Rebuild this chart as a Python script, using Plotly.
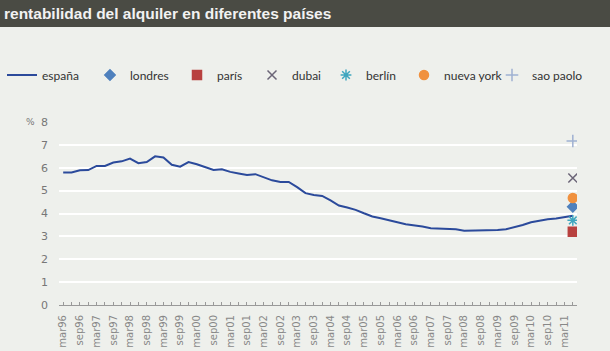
import plotly.graph_objects as go

months = []
for y in range(1996, 2012):
    for m in ["mar", "jun", "sep", "dic"]:
        months.append(f"{m}{str(y)[2:]}")
categories = months[:months.index("jun11") + 1]

espana = [5.79, 5.79, 5.89, 5.90, 6.08, 6.08, 6.23, 6.28, 6.40, 6.20,
          6.25, 6.50, 6.45, 6.13, 6.05, 6.25, 6.15, 6.02, 5.90, 5.93,
          5.82, 5.75, 5.68, 5.72, 5.57, 5.45, 5.38, 5.38, 5.15, 4.89,
          4.81, 4.77, 4.57, 4.35, 4.26, 4.16, 4.01, 3.87, 3.79, 3.72,
          3.62, 3.53, 3.49, 3.43, 3.36, 3.34, 3.34, 3.31, 3.25, 3.25,
          3.28, 3.28, 3.28, 3.31, 3.40, 3.50, 3.62, 3.69, 3.75, 3.78,
          3.84, 3.90]

cities = ["londres", "parís", "dubai", "berlín", "nueva york", "sao paolo"]
city_values = [4.3, 3.2, 5.55, 3.7, 4.68, 7.17]
city_symbols = ["diamond", "square", "x-thin-open", "asterisk-open", "circle", "cross-thin-open"]
city_colors = ["#4f81bd", "#b8413f", "#6b6577", "#3fa6bf", "#f0913f", "#9fb1d2"]
city_sizes = [8, 9, 9, 9, 9, 9]

y_ticks = [0, 1, 2, 3, 4, 5, 6, 7, 8]

W, H = 610, 351
L, R, T, B = 59, 33, 122, 46
pw, ph = W - L - R, H - T - B

# legend text start positions (pixels) for each entry
legend_text_x = [42, 130, 217, 292, 366, 444, 532]

xi = list(range(len(categories)))
fig = go.Figure()
fig.add_trace(go.Scatter(x=xi, y=espana, mode="lines", name="españa",
                         line=dict(color="#2b4a9b", width=2), legend="legend"))
for k, (c, v, s, col, sz) in enumerate(zip(cities, city_values, city_symbols, city_colors, city_sizes)):
    fig.add_trace(go.Scatter(x=[xi[-1]], y=[v], mode="markers", name=c,
                             legend=f"legend{k + 2}",
                             marker=dict(symbol=s, color=col, size=sz,
                                         line=dict(color=col, width=1.5))))

ticktext = [lab if i % 2 == 0 else "" for i, lab in enumerate(categories)]

bg = "#eef0ec"
legends = {}
for k, tx in enumerate(legend_text_x):
    key = "legend" if k == 0 else f"legend{k + 1}"
    legends[key] = dict(orientation="h", x=(tx - 40 - L) / pw, xanchor="left",
                        y=1 + (T - 75) / ph, yanchor="middle",
                        font=dict(size=12, color="#333", family="Lato, Open Sans, sans-serif"),
                        bgcolor="rgba(0,0,0,0)", itemwidth=30)

fig.update_layout(
    width=W, height=H, margin=dict(l=L, r=R, t=T, b=B, pad=0, autoexpand=False),
    paper_bgcolor=bg, plot_bgcolor=bg,
    font=dict(family="Lato, Open Sans, sans-serif", color="#555"),
    showlegend=True,
    xaxis=dict(range=[-0.5, len(categories) - 0.5], tickmode="array", tickvals=xi, ticktext=ticktext,
               tickangle=-90, tickfont=dict(size=10, color="#888", family="DejaVu Sans"),
               showgrid=False, zeroline=False, showline=True, linecolor="#999", linewidth=1,
               ticks="inside", ticklen=3, tickcolor="#999", ticklabelstandoff=5, automargin=False),
    yaxis=dict(range=[0, 8], tickvals=y_ticks, tickfont=dict(size=11, color="#777", family="DejaVu Sans"),
               showgrid=True, gridcolor="#ffffff", gridwidth=2, zeroline=False, showline=False,
               ticks="", ticklabelstandoff=10, automargin=False),
    **legends,
)

fig.add_shape(type="rect", xref="paper", yref="paper",
              x0=-L / pw, x1=1 + R / pw, y0=1 + (T - 27) / ph, y1=1 + T / ph,
              fillcolor="#4a4b44", line=dict(width=0), layer="below")
fig.add_annotation(xref="paper", yref="paper", x=-(L - 2) / pw, y=1 + (T - 13) / ph,
                   xanchor="left", yanchor="middle", showarrow=False,
                   text="<b>rentabilidad del alquiler en diferentes países</b>",
                   font=dict(family="Liberation Sans, Arial", size=15.5, color="#f2f2f2"))
fig.add_annotation(xref="paper", yref="paper", x=-(L - 30) / pw, y=1 + 0 / ph,
                   xanchor="center", yanchor="middle", showarrow=False,
                   text="%", font=dict(family="DejaVu Sans", size=9, color="#777"))

fig.write_html("out.html")
